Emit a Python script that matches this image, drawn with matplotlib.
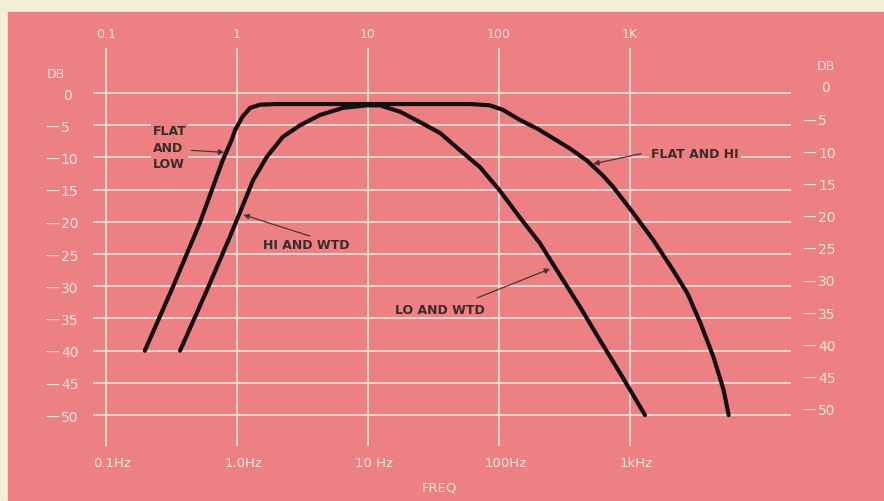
import matplotlib.pyplot as plt
from matplotlib.patches import Rectangle

# curve 1: "flat and low" / "flat and hi" (one trace)
flat_freq = [0.198, 0.326, 0.52, 0.78, 0.91, 0.97, 1.10, 1.26, 1.50, 2.0, 10, 60, 85, 107, 145,
             195, 258, 347, 470, 620, 745, 1055, 1500, 2130, 2740, 3440, 4330, 5170, 5650]
flat_db = [-40, -30.0, -20.2, -10.4, -7.3, -5.7, -3.7, -2.3, -1.8, -1.7, -1.7, -1.7, -1.9, -2.6, -4.2,
           -5.5, -7.0, -8.6, -10.5, -12.8, -14.6, -18.6, -22.8, -27.5, -31.1, -35.7, -41, -46.1, -50]

# curve 2: "hi and wtd" / "lo and wtd"
wtd_freq = [0.368, 0.59, 0.88, 1.05, 1.33, 1.69, 2.24, 3.03, 4.3, 6.45, 9.8, 12.3, 17.6, 24.9,
            35.5, 50.5, 71.5, 101, 144, 205, 292, 415, 590, 840, 1300]
wtd_db = [-40, -30.6, -22.4, -18.6, -13.5, -9.9, -6.8, -5.0, -3.4, -2.3, -1.9, -1.9, -2.9, -4.5,
          -6.2, -8.9, -11.5, -15.1, -19.3, -23.3, -28.3, -33.2, -38.4, -43.5, -50]

top_ticks = [0.1, 1, 10, 100, 1000]
top_labels = ['0.1', '1', '10', '100', '1K']
bottom_labels = ['0.1Hz', '1.0Hz', '10 Hz', '100Hz', '1kHz']
db_ticks = [0, -5, -10, -15, -20, -25, -30, -35, -40, -45, -50]

W, H = 884, 501
pink = '#ec8083'
grid_c = '#f8dcd4'
label_c = '#fbe6df'
ink = '#3a2c2c'

fig = plt.figure(figsize=(W / 100, H / 100), dpi=100)
fig.patch.set_facecolor('#f3eed6')
fig.patches.append(Rectangle((8 / W, 1 - 500 / H), 876 / W, 488 / H,
                             transform=fig.transFigure, color=pink, zorder=0))

# axes box = extent of the grid lines (pixels 93..791 x 48..446)
ax = fig.add_axes([93 / W, 1 - 446 / H, 698 / W, 398 / H])
ax.set_zorder(2)
ax.set_facecolor('none')
ax.set_xscale('log')
ax.set_xlim(0.0797, 16900)
ax.set_ylim(-54.8, 7.0)
for s in ax.spines.values():
    s.set_visible(False)
ax.set_xticks([])
ax.set_yticks([])
ax.minorticks_off()

for f in top_ticks:
    ax.axvline(f, color=grid_c, lw=1.3, zorder=1)
for d in db_ticks:
    ax.axhline(d, color=grid_c, lw=1.3, zorder=1)

ax.plot(flat_freq, flat_db, color='#151010', lw=3.0, solid_capstyle='round',
        solid_joinstyle='round', zorder=4)
ax.plot(wtd_freq, wtd_db, color='#151010', lw=3.0, solid_capstyle='round',
        solid_joinstyle='round', zorder=4)

xt = ax.get_xaxis_transform()
yt = ax.get_yaxis_transform()
for f, lab in zip(top_ticks, top_labels):
    ax.text(f, 1.035, lab, transform=xt, ha='center', va='center',
            color=label_c, fontsize=9, clip_on=False)
for f, lab in zip(top_ticks, bottom_labels):
    ax.text(f * 1.12, -0.043, lab, transform=xt, ha='center', va='center',
            color=label_c, fontsize=9.5, clip_on=False)
ax.text(35, -0.105, 'FREQ', transform=xt, ha='center', va='center',
        color=label_c, fontsize=9.5, clip_on=False)

# left and right dB labels
ax.text(-0.066, 2.9, 'DB', transform=yt, ha='left', va='center', color=label_c, fontsize=9)
ax.text(1.037, 4.1, 'DB', transform=yt, ha='left', va='center', color=label_c, fontsize=9)
for d in db_ticks:
    num = str(abs(d))
    if d == 0:
        ax.text(-0.043, d - 0.4, num, transform=yt, ha='left', va='center',
                color=label_c, fontsize=10)
        ax.text(1.043, d + 0.8, num, transform=yt, ha='left', va='center',
                color=label_c, fontsize=10)
    else:
        ax.text(-0.068, d - 0.4, '—', transform=yt, ha='left', va='center',
                color=label_c, fontsize=10)
        ax.text(-0.046, d - 0.4, num, transform=yt, ha='left', va='center',
                color=label_c, fontsize=10)
        ax.text(1.016, d + 0.6, '—', transform=yt, ha='left', va='center',
                color=label_c, fontsize=10)
        ax.text(1.039, d + 0.6, num, transform=yt, ha='left', va='center',
                color=label_c, fontsize=10)

arrow = dict(arrowstyle='-|>', color='#4a3536', lw=0.9, mutation_scale=8,
             shrinkA=0, shrinkB=0)
box = dict(boxstyle='square,pad=0.15', fc=pink, ec='none')

ax.text(0.228, -8.6, 'FLAT\nAND\nLOW', ha='left', va='center', color=ink,
        fontsize=9, fontweight='bold', linespacing=1.35, bbox=box, zorder=3)
ax.annotate('', xy=(0.8, -9.2), xytext=(0.45, -8.9), arrowprops=arrow, zorder=5)

ax.text(1.58, -23.7, 'HI AND WTD', ha='left', va='center', color=ink,
        fontsize=9, fontweight='bold', zorder=3)
ax.annotate('', xy=(1.12, -18.9), xytext=(3.6, -22.2), arrowprops=arrow, zorder=5)

ax.text(16.1, -33.7, 'LO AND WTD', ha='left', va='center', color=ink,
        fontsize=9, fontweight='bold', zorder=3)
ax.annotate('', xy=(245, -27.3), xytext=(68, -31.8), arrowprops=arrow, zorder=5)

ax.text(1446, -9.6, 'FLAT AND HI', ha='left', va='center', color=ink,
        fontsize=9, fontweight='bold', bbox=box, zorder=3)
ax.annotate('', xy=(524, -11.0), xytext=(1215, -9.4), arrowprops=arrow, zorder=5)

fig.savefig('out.png', dpi=100, facecolor=fig.get_facecolor())
